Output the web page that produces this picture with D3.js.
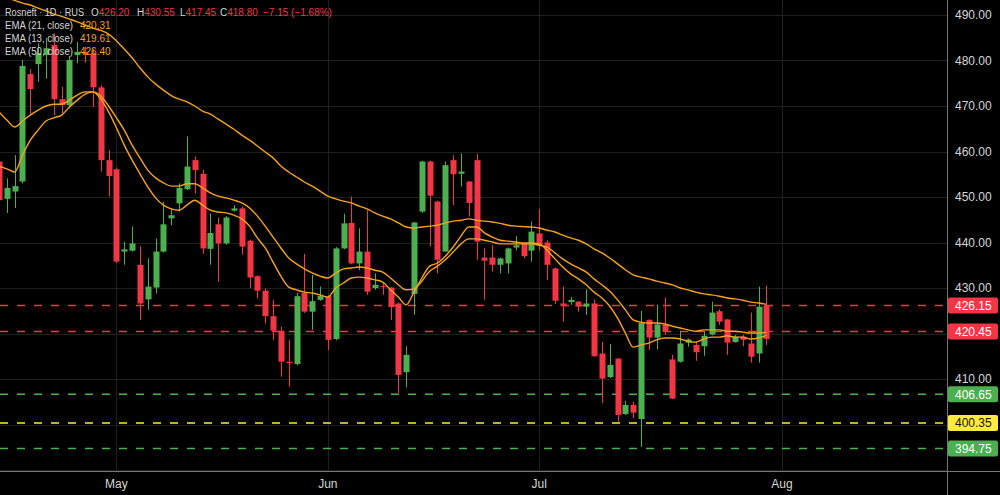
<!DOCTYPE html>
<html>
<head>
<meta charset="utf-8">
<script src="https://cdn.jsdelivr.net/npm/d3@7"></script>
<style>
  html, body { margin: 0; padding: 0; background: #000; }
  svg { display: block; font-family: "Liberation Sans", Arial, sans-serif; }
</style>
</head>
<body>
<svg id="chart"></svg>
<script>
// Rosneft 1D candles (index 0 = partial candle at left edge)
const opens = [457.8,449.6,451.2,453.4,477.0,479.2,481.2,483.4,471.5,470.2,
  481.2,481.9,481.6,474.1,458.1,456.1,438.0,438.2,435.1,427.5,
  430.1,438.0,445.3,448.6,451.7,458.1,455.1,438.6,444.0,439.8,
  447.0,447.5,440.4,432.6,429.4,423.8,420.6,413.8,413.3,428.9,
  424.8,427.4,428.2,418.8,438.7,444.3,435.4,438.0,430.0,430.4,
  430.1,426.6,411.5,428.7,446.8,457.8,449.0,438.0,458.1,455.1,
  453.4,458.1,436.7,436.7,435.1,435.4,438.9,439.7,438.2,442.0,
  440.0,434.3,426.6,426.9,427.0,425.9,426.6,415.6,410.4,414.5,
  402.3,404.3,401.2,423.0,419.1,421.9,414.3,413.8,418.0,417.5,
  417.2,419.8,424.9,423.1,418.1,419.3,417.8,415.6,426.20];
const highs = [459.0,454.1,459.2,480.1,478.1,483.8,485.0,486.0,474.2,481.0,
  484.1,483.0,482.5,474.5,460.3,456.5,440.2,443.5,439.1,436.5,
  440.9,449.0,447.5,453.0,463.3,458.9,456.0,446.4,445.5,445.8,
  448.2,447.9,440.6,432.8,429.9,427.4,421.5,418.6,428.9,437.5,
  432.9,430.3,428.4,439.0,446.3,450.1,443.1,447.1,433.2,431.0,
  430.2,426.8,417.2,444.5,458.0,458.0,449.2,457.8,459.2,459.6,
  453.5,459.5,438.7,439.4,436.7,438.9,441.4,439.8,444.6,447.4,
  440.5,434.5,430.3,428.0,427.1,429.7,427.5,418.2,417.7,414.6,
  405.2,405.0,425.0,423.1,426.3,427.9,415.3,420.6,418.9,418.2,
  420.4,427.0,425.3,423.2,419.7,419.7,424.6,430.3,430.55];
const lows = [448.0,446.5,447.6,453.0,468.0,475.3,476.0,468.0,468.4,469.5,
  479.4,479.5,469.8,455.6,450.1,435.5,435.1,438.0,423.0,425.2,
  428.8,437.8,443.8,446.8,451.5,450.8,437.5,435.1,431.4,439.5,
  446.8,437.3,430.0,427.7,422.2,418.6,410.5,408.3,413.0,424.5,
  420.8,427.2,416.4,418.5,438.5,435.2,433.9,428.5,429.6,428.5,
  423.0,406.9,408.2,424.1,446.5,439.1,433.2,438.0,448.2,452.3,
  445.7,436.2,427.4,433.6,433.2,433.2,438.3,436.5,435.8,438.3,
  431.8,426.5,422.6,426.3,424.8,424.1,414.9,404.7,410.2,400.6,
  402.1,401.4,395.1,416.4,416.5,419.7,405.6,413.6,417.1,414.0,
  415.1,419.6,421.9,415.3,418.0,417.2,413.6,413.6,417.45];
const closes = [449.3,452.0,452.4,478.8,473.7,481.6,482.7,471.5,470.2,480.1,
  481.9,481.3,474.1,458.1,454.6,435.8,438.5,439.8,426.6,430.3,
  438.0,444.0,446.0,452.0,456.7,455.9,438.7,442.1,439.8,445.5,
  447.5,439.1,432.3,429.4,423.8,420.6,413.8,413.5,428.2,424.8,
  427.1,428.3,418.6,438.7,444.2,435.4,438.0,429.2,430.7,430.2,
  425.8,410.9,415.3,444.4,457.8,450.3,436.2,457.0,455.0,455.6,
  448.7,440.2,436.0,435.1,436.5,438.7,439.4,437.0,442.4,439.4,
  435.1,427.2,426.0,427.4,425.9,426.6,415.0,410.1,413.1,402.1,
  404.3,402.6,422.4,419.1,422.0,420.4,405.7,417.8,418.7,415.9,
  419.5,424.6,422.6,418.0,419.3,418.6,414.9,425.9,418.80];

// EMA lines as drawn on the chart
const ema50 = [494.6,494.0,493.2,492.6,492.2,491.5,490.9,490.2,489.7,489.1,
  488.5,487.8,487.1,486.6,485.8,484.3,482.5,480.6,478.4,476.4,
  474.8,473.5,472.3,471.5,470.9,470.0,468.9,468.2,467.1,466.0,
  464.9,463.6,462.5,461.2,459.9,458.6,456.8,455.5,454.4,453.3,
  452.4,451.3,450.2,449.6,449.1,448.7,448.0,447.4,446.5,445.8,
  445.2,444.3,443.4,443.2,443.4,443.6,443.8,444.3,444.7,444.9,
  445.2,444.9,444.7,444.5,444.2,443.8,443.6,443.5,443.4,443.2,
  442.7,442.3,441.6,441.0,440.5,439.7,438.6,437.7,436.6,435.3,
  434.0,432.9,432.4,432.0,431.5,431.1,430.7,430.0,429.6,429.1,
  428.7,428.5,428.2,427.8,427.6,427.3,426.9,426.7,426.40];
const ema21 = [468.7,466.9,465.4,466.7,468.0,469.1,470.0,470.4,470.4,471.3,
  472.4,473.1,473.1,472.2,470.0,467.4,464.7,461.4,458.6,455.9,
  454.2,453.1,452.4,452.4,452.9,452.9,452.0,450.9,450.2,449.8,
  449.3,448.7,447.6,445.8,443.6,441.2,438.8,436.6,435.3,434.2,
  433.3,432.6,432.2,433.3,434.2,434.4,434.6,434.4,433.9,433.5,
  432.2,430.7,429.6,429.8,431.5,433.7,434.8,436.2,437.9,439.7,
  440.8,440.8,440.5,440.1,439.7,439.7,439.7,439.7,439.7,439.4,
  439.0,437.7,436.4,435.3,434.4,433.5,432.0,430.7,429.3,427.4,
  425.2,423.0,422.5,422.3,422.3,422.1,421.6,421.2,420.8,420.5,
  420.8,420.8,420.8,420.5,420.5,420.3,420.1,420.1,420.31];
const ema13 = [456.8,456.2,455.5,459.2,462.5,464.7,466.7,467.4,468.0,469.8,
  471.3,472.6,473.1,471.5,468.7,465.2,461.4,458.1,455.1,452.2,
  449.8,448.2,447.4,447.1,448.2,449.3,448.2,447.1,446.7,446.5,
  446.0,445.2,443.6,441.0,438.8,435.7,432.6,430.2,429.6,429.1,
  428.9,428.5,428.0,430.0,431.1,432.2,432.4,432.2,431.8,431.3,
  429.6,428.0,426.3,429.1,432.2,434.8,435.5,437.0,439.0,441.4,
  443.4,443.4,442.1,441.2,440.5,440.3,440.1,439.9,439.9,439.7,
  438.3,436.4,434.6,433.1,432.0,430.7,429.1,427.8,426.0,423.4,
  420.1,417.0,417.5,417.9,418.6,419.0,419.0,418.8,418.3,418.1,
  418.8,419.2,419.2,419.5,419.2,419.2,418.8,419.0,419.61];

const emaNames = ["EMA (21, close)", "EMA (13, close)", "EMA (50, close)"];

// horizontal levels
const levelValues = [426.15, 420.45, 406.65, 400.35, 394.75];
const levelKinds = ["res", "res", "sup", "pivot", "sup"];

// axes
const priceTicks = [400, 410, 420, 430, 440, 450, 460, 470, 480, 490];
const monthLabels = ["May", "Jun", "Jul", "Aug"];
const monthIndex = [15, 42, 69, 100];

const symbolText = "Rosneft · 1D · RUS";
const changeText = "\u22127.15 (\u22121.68%)";

(function () {
  const W = 1000, H = 495;
  const PR = 947, PB = 471;       // right price scale / bottom time scale edges

  const UP = "#4caf50", DOWN = "#f23645", EMA = "#f5a31f";
  const GRID = "#1f1f1f", AXIS = "#777", TXT = "#d6d6d6";
  const LEVEL = { res: DOWN, sup: UP, pivot: "#ffeb3b" };

  const svg = d3.select("#chart").attr("width", W).attr("height", H);
  svg.append("rect").attr("width", W).attr("height", H).attr("fill", "#000");

  const x = d3.scaleLinear().domain([0, 100]).range([-1, 782]);
  const y = d3.scaleLinear().domain([390, 490]).range([470, 15]);

  svg.append("clipPath").attr("id", "plot")
    .append("rect").attr("width", PR).attr("height", PB);

  const g = svg.append("g").attr("clip-path", "url(#plot)");

  // grid
  g.append("g").selectAll("line").data(priceTicks.concat([390])).join("line")
    .attr("x1", 0).attr("x2", PR)
    .attr("y1", d => Math.round(y(d)) + 0.5).attr("y2", d => Math.round(y(d)) + 0.5)
    .attr("stroke", GRID);
  g.append("g").selectAll("line").data(monthIndex).join("line")
    .attr("x1", d => Math.round(x(d)) + 0.5).attr("x2", d => Math.round(x(d)) + 0.5)
    .attr("y1", 0).attr("y2", PB)
    .attr("stroke", GRID);

  // dashed levels
  g.append("g").selectAll("line").data(levelValues).join("line")
    .attr("x1", 0).attr("x2", PR)
    .attr("y1", d => y(d)).attr("y2", d => y(d))
    .attr("stroke", (d, i) => LEVEL[levelKinds[i]])
    .attr("stroke-width", 1.5)
    .attr("stroke-dasharray", "8,9");

  // candles
  const idx = d3.range(opens.length);
  const bw = 6;
  const candles = g.append("g").selectAll("g").data(idx).join("g")
    .attr("fill", i => closes[i] >= opens[i] ? UP : DOWN)
    .attr("stroke", i => closes[i] >= opens[i] ? UP : DOWN);
  candles.append("line")
    .attr("x1", i => Math.round(x(i)) + 0.5).attr("x2", i => Math.round(x(i)) + 0.5)
    .attr("y1", i => y(highs[i])).attr("y2", i => y(lows[i]))
    .attr("stroke-width", 1);
  candles.append("rect")
    .attr("stroke", "none")
    .attr("x", i => Math.round(x(i)) - bw / 2 + 0.5)
    .attr("width", bw)
    .attr("y", i => y(Math.max(opens[i], closes[i])))
    .attr("height", i => Math.max(1, Math.abs(y(opens[i]) - y(closes[i]))));

  // EMAs
  const line = d3.line().x((d, i) => x(i)).y(d => y(d)).curve(d3.curveMonotoneX);
  [ema21, ema13, ema50].forEach(s => {
    g.append("path").datum(s)
      .attr("fill", "none").attr("stroke", EMA)
      .attr("stroke-width", 1.4).attr("d", line);
  });

  // price scale
  svg.append("line").attr("x1", PR + 0.5).attr("x2", PR + 0.5)
    .attr("y1", 0).attr("y2", H).attr("stroke", AXIS);
  svg.append("line").attr("x1", 0).attr("x2", W)
    .attr("y1", PB + 0.5).attr("y2", PB + 0.5).attr("stroke", AXIS);

  svg.append("g").selectAll("text").data(priceTicks).join("text")
    .attr("x", 955).attr("y", d => y(d)).attr("dy", "0.35em")
    .attr("fill", TXT).attr("font-size", 12)
    .text(d => d.toFixed(2));

  const tags = svg.append("g").selectAll("g").data(levelValues).join("g")
    .attr("transform", d => `translate(948,${y(d)})`);
  tags.append("rect")
    .attr("x", 0).attr("y", -8).attr("width", 50).attr("height", 16).attr("rx", 2)
    .attr("fill", (d, i) => LEVEL[levelKinds[i]]);
  tags.append("text")
    .attr("x", 7).attr("dy", "0.36em").attr("font-size", 12)
    .attr("fill", (d, i) => levelKinds[i] === "pivot" ? "#111" : "#fff")
    .text(d => d.toFixed(2));

  // time scale
  svg.append("g").selectAll("text").data(monthLabels).join("text")
    .attr("x", (d, i) => x(monthIndex[i])).attr("y", 488)
    .attr("text-anchor", "middle").attr("fill", TXT).attr("font-size", 12)
    .text(d => d);

  // legend
  const n = opens.length - 1;
  const lg = svg.append("g").attr("font-size", 10);
  const row1 = lg.append("text").attr("y", 16).attr("fill", TXT);
  row1.append("tspan").attr("x", 5)
    .attr("textLength", 79).attr("lengthAdjust", "spacingAndGlyphs")
    .text(symbolText);
  const ohlc = [["O", opens[n]], ["H", highs[n]], ["L", lows[n]], ["C", closes[n]]];
  const ohlcX = [91, 137, 180, 220];
  ohlc.forEach(([k, v], j) => {
    row1.append("tspan").attr("x", ohlcX[j]).text(k);
    row1.append("tspan").attr("fill", DOWN).text(v.toFixed(2));
  });
  row1.append("tspan").attr("x", 263).attr("fill", DOWN).text(changeText);

  const emaLast = [ema21, ema13, ema50].map(s => s[s.length - 1]);
  emaNames.forEach((name, j) => {
    const t = lg.append("text").attr("y", 29 + j * 13).attr("fill", TXT);
    t.append("tspan").attr("x", 5)
      .attr("textLength", 68).attr("lengthAdjust", "spacingAndGlyphs")
      .text(name);
    t.append("tspan").attr("x", 80).attr("fill", EMA).text(emaLast[j].toFixed(2));
  });
})();
</script>
</body>
</html>
